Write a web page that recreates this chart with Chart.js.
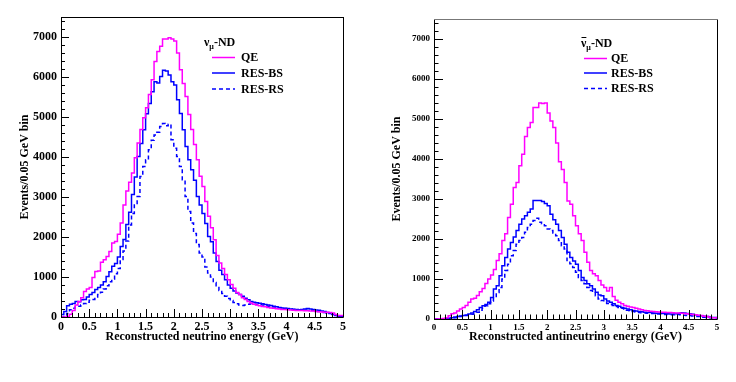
<!DOCTYPE html>
<html>
<head>
<meta charset="utf-8">
<script src="https://cdn.jsdelivr.net/npm/chart.js@4.4.1/dist/chart.umd.min.js"></script>
<style>
    html, body { margin: 0; padding: 0; background: #fff; }
    body { width: 736px; height: 382px; position: relative; overflow: hidden; }
    .panel { position: absolute; top: 0; width: 368px; height: 382px; }
</style>
</head>
<body>
<div class="panel" style="left:0"><canvas id="nu-chart"></canvas></div>
<div class="panel" style="left:368px"><canvas id="anu-chart"></canvas></div>
<script>
// histogram binning (GeV)
const binWidth = 0.05;
const xMax = 5;
const yMax = 7500;

// tick labels
const xTickValues = [0, 0.5, 1, 1.5, 2, 2.5, 3, 3.5, 4, 4.5, 5];
const xTickLabels = ["0", "0.5", "1", "1.5", "2", "2.5", "3", "3.5", "4", "4.5", "5"];
const yTickValues = [0, 1000, 2000, 3000, 4000, 5000, 6000, 7000];
const yTickLabels = ["0", "1000", "2000", "3000", "4000", "5000", "6000", "7000"];

const seriesLabels = ["QE", "RES-BS", "RES-RS"];

// nu_mu ND, events per 0.05 GeV bin (100 bins from 0 to 5 GeV)
const qeNu = [
    0, 0, 0, 10, 70, 160, 300, 390, 480, 640,
    700, 740, 990, 1140, 1150, 1370, 1430, 1510, 1640, 1850,
    1890, 2070, 2350, 2800, 3150, 3370, 3600, 3980, 4350, 4690,
    4980, 5230, 5560, 5930, 6390, 6640, 6770, 6950, 6950, 6980,
    6950, 6900, 6600, 6180, 5840, 5510, 5060, 4690, 4310, 3930,
    3520, 3260, 2890, 2520, 2230, 1930, 1540, 1350, 1210, 1060,
    930, 810, 720, 610, 560, 480, 440, 390, 350, 320,
    300, 280, 265, 255, 240, 225, 220, 205, 200, 190,
    185, 180, 172, 170, 165, 160, 162, 158, 155, 150,
    148, 140, 132, 128, 120, 118, 110, 100, 60, 35
];
const bsNu = [
    0, 60, 140, 280, 320, 340, 390, 380, 430, 440,
    500, 560, 610, 690, 740, 800, 880, 1010, 1130, 1270,
    1340, 1500, 1760, 1940, 2310, 2620, 3060, 3500, 4010, 4340,
    4680, 5080, 5340, 5630, 5880, 5850, 6010, 6170, 6150, 6050,
    5880, 5800, 5430, 5090, 4680, 4260, 3930, 3680, 3420, 3010,
    2800, 2590, 2340, 2010, 1880, 1600, 1390, 1170, 1060, 930,
    800, 720, 650, 600, 560, 520, 470, 430, 390, 370,
    355, 345, 330, 310, 300, 285, 270, 255, 240, 225,
    220, 210, 200, 195, 185, 180, 190, 200, 210, 200,
    185, 175, 170, 150, 140, 110, 95, 70, 45, 20
];
const rsNu = [
    0, 0, 30, 90, 180, 220, 250, 270, 300, 340,
    370, 420, 440, 500, 560, 620, 700, 780, 880, 950,
    1080, 1210, 1440, 1650, 1900, 2300, 2590, 2800, 3010, 3510,
    3760, 3930, 4180, 4420, 4550, 4620, 4760, 4840, 4780, 4820,
    4430, 4220, 4010, 3760, 3430, 3010, 2640, 2350, 2090, 1810,
    1600, 1500, 1250, 1100, 1000, 860, 760, 660, 590, 520,
    460, 410, 360, 330, 300, 290, 300, 320, 330, 320,
    310, 305, 300, 285, 270, 260, 250, 240, 230, 225,
    215, 205, 200, 190, 185, 180, 175, 170, 168, 165,
    160, 150, 140, 125, 115, 100, 85, 60, 40, 20
];

// anti-nu_mu ND
const qeAnu = [
    0, 0, 0, 5, 15, 30, 80, 130, 150, 200,
    250, 290, 340, 420, 500, 520, 590, 680, 760, 890,
    1000, 1100, 1240, 1460, 1630, 1960, 2130, 2540, 2870, 3290,
    3410, 3830, 4120, 4560, 4790, 4910, 5290, 5290, 5400, 5390,
    5400, 5150, 4950, 4790, 4400, 3930, 3740, 3410, 2950, 2870,
    2580, 2330, 2130, 1960, 1670, 1420, 1210, 1130, 1080, 960,
    850, 790, 700, 790, 560, 470, 420, 380, 340, 320,
    300, 290, 270, 250, 230, 210, 205, 195, 190, 180,
    175, 170, 168, 165, 160, 155, 150, 150, 145, 140,
    130, 120, 110, 105, 95, 85, 70, 60, 45, 30
];
const bsAnu = [
    0, 0, 0, 0, 5, 10, 20, 30, 50, 60,
    75, 85, 100, 125, 150, 190, 230, 290, 330, 360,
    420, 540, 750, 830, 1080, 1330, 1540, 1750, 1910, 2050,
    2210, 2370, 2500, 2580, 2670, 2750, 2960, 2960, 2960, 2940,
    2890, 2830, 2620, 2480, 2370, 2210, 2040, 1870, 1670, 1540,
    1450, 1370, 1210, 1040, 960, 880, 830, 750, 670, 600,
    580, 500, 450, 420, 380, 340, 320, 290, 270, 250,
    230, 210, 200, 190, 180, 170, 165, 160, 150, 145,
    142, 140, 135, 130, 125, 125, 130, 140, 155, 150,
    140, 130, 120, 105, 90, 80, 70, 60, 50, 40
];
const rsAnu = [
    0, 0, 0, 0, 0, 5, 10, 20, 30, 45,
    60, 70, 85, 100, 120, 150, 170, 220, 270, 330,
    380, 450, 540, 660, 790, 1000, 1210, 1370, 1580, 1710,
    1870, 1960, 2040, 2170, 2290, 2370, 2460, 2520, 2420, 2380,
    2330, 2250, 2210, 2150, 2080, 1960, 1830, 1750, 1460, 1380,
    1290, 1170, 1040, 960, 880, 790, 710, 670, 580, 500,
    460, 420, 390, 360, 340, 310, 290, 270, 250, 220,
    200, 190, 175, 165, 155, 150, 145, 140, 135, 130,
    125, 120, 115, 110, 108, 105, 110, 115, 100, 95,
    90, 85, 75, 65, 60, 55, 45, 35, 30, 25
];

const serif = '"Liberation Serif", "Times New Roman", serif';
const magenta = "#ff00ff";
const blue = "#0000ff";

function histDataset(label, values, color, dash) {
    let points = values.map(function (v, i) {
        return { x: Math.round(i * binWidth * 100) / 100, y: v };
    });
    points.push({ x: xMax, y: values[values.length - 1] });
    return {
        label: label,
        data: points,
        borderColor: color,
        borderWidth: 1.5,
        borderDash: dash,
        stepped: "after",
        pointRadius: 0,
        fill: false,
    };
}

// ROOT-like frame, inward ticks and legend box
const rootFrame = {
    id: "rootFrame",
    afterDraw: function (chart, args, opts) {
        const ctx = chart.ctx;
        const area = chart.chartArea;
        const xs = chart.scales.x;
        const ys = chart.scales.y;
        ctx.save();

        ctx.lineWidth = 1;
        ctx.strokeStyle = "#000";
        ctx.setLineDash([]);
        ctx.beginPath();
        ctx.moveTo(area.left + 0.5, area.top + 0.5);
        ctx.lineTo(area.left + 0.5, area.bottom + 0.5);
        ctx.lineTo(area.right + 0.5, area.bottom + 0.5);
        ctx.lineTo(area.right + 0.5, area.top + 0.5);
        ctx.stroke();
        ctx.strokeStyle = opts.topColor;
        ctx.beginPath();
        ctx.moveTo(area.left, area.top + 0.5);
        ctx.lineTo(area.right + 1, area.top + 0.5);
        ctx.stroke();

        ctx.strokeStyle = "#000";
        ctx.beginPath();
        for (let i = 0; i <= 50; i++) {
            let px = Math.round(xs.getPixelForValue(i * 0.1)) + 0.5;
            let len = i % 5 === 0 ? opts.majorLen : opts.minorLen;
            ctx.moveTo(px, area.bottom);
            ctx.lineTo(px, area.bottom - len);
        }
        for (let i = 0; i <= 37; i++) {
            let py = Math.round(ys.getPixelForValue(i * 200)) + 0.5;
            let len = i % 5 === 0 ? opts.majorLen : opts.minorLen;
            ctx.moveTo(area.left, py);
            ctx.lineTo(area.left + len, py);
        }
        ctx.stroke();

        // legend
        const lg = opts.legend;
        ctx.fillStyle = "#000";
        ctx.textBaseline = "alphabetic";
        ctx.textAlign = "left";
        ctx.font = "bold 12px " + serif;
        let tx = lg.x;
        ctx.fillText("\u03bd", tx, lg.titleY);
        let nuW = ctx.measureText("\u03bd").width;
        if (lg.anti) {
            ctx.beginPath();
            ctx.moveTo(tx + 0.5, lg.titleY - 9.5);
            ctx.lineTo(tx + nuW, lg.titleY - 9.5);
            ctx.stroke();
        }
        tx += nuW;
        ctx.font = "bold 8px " + serif;
        ctx.fillText("\u03bc", tx, lg.titleY + 3);
        tx += ctx.measureText("\u03bc").width;
        ctx.font = "bold 12px " + serif;
        ctx.fillText("-ND", tx, lg.titleY);

        ctx.textBaseline = "middle";
        chart.data.datasets.forEach(function (ds, i) {
            let y = lg.rowY[i];
            ctx.strokeStyle = ds.borderColor;
            ctx.lineWidth = 1.5;
            ctx.setLineDash(ds.borderDash || []);
            ctx.beginPath();
            ctx.moveTo(lg.lineX0, y);
            ctx.lineTo(lg.lineX1, y);
            ctx.stroke();
            ctx.fillText(ds.label, lg.textX, y + 0.5);
        });
        ctx.restore();
    },
};

function makeChart(canvasId, sets, cfg) {
    let canvas = document.getElementById(canvasId);
    return new Chart(canvas, {
        type: "line",
        data: {
            datasets: [
                histDataset(seriesLabels[0], sets[0], magenta, []),
                histDataset(seriesLabels[1], sets[1], blue, []),
                histDataset(seriesLabels[2], sets[2], blue, [4, 3]),
            ],
        },
        plugins: [rootFrame],
        options: {
            responsive: true,
            maintainAspectRatio: false,
            animation: false,
            devicePixelRatio: 1,
            layout: { padding: { left: 0, right: cfg.padRight, top: cfg.padTop, bottom: 0 } },
            plugins: {
                legend: { display: false },
                tooltip: { enabled: false },
                rootFrame: {
                    majorLen: cfg.majorLen,
                    minorLen: cfg.minorLen,
                    topColor: cfg.topColor,
                    legend: cfg.legend,
                },
            },
            scales: {
                x: {
                    type: "linear",
                    min: 0,
                    max: xMax,
                    afterBuildTicks: function (scale) {
                        scale.ticks = xTickValues.map(function (v) { return { value: v }; });
                    },
                    afterFit: function (scale) { scale.height = cfg.xHeight; },
                    ticks: {
                        autoSkip: false,
                        maxRotation: 0,
                        padding: 3,
                        color: "#000",
                        font: { family: serif, size: cfg.tickSize, weight: "bold" },
                        callback: function (value) {
                            return xTickLabels[xTickValues.indexOf(value)];
                        },
                    },
                    grid: { display: false, drawTicks: false },
                    border: { display: false },
                    title: {
                        display: true,
                        text: cfg.xTitle,
                        color: "#000",
                        font: { family: serif, size: 12, weight: "bold" },
                        padding: { top: 0, bottom: 38 },
                    },
                },
                y: {
                    min: 0,
                    max: yMax,
                    afterBuildTicks: function (scale) {
                        scale.ticks = yTickValues.map(function (v) { return { value: v }; });
                    },
                    afterFit: function (scale) { scale.width = cfg.yWidth; },
                    ticks: {
                        padding: 4,
                        color: "#000",
                        font: { family: serif, size: cfg.tickSize, weight: "bold" },
                        callback: function (value) {
                            return yTickLabels[yTickValues.indexOf(value)];
                        },
                    },
                    grid: { display: false, drawTicks: false },
                    border: { display: false },
                    title: {
                        display: true,
                        text: "Events/0.05 GeV bin",
                        color: "#000",
                        font: { family: serif, size: 12, weight: "bold" },
                        padding: { top: cfg.yTitlePad, bottom: 0 },
                    },
                },
            },
        },
    });
}

window.chartNu = makeChart("nu-chart", [qeNu, bsNu, rsNu], {
    padRight: 25, padTop: 17, xHeight: 65, yWidth: 61, yTitlePad: 18,
    tickSize: 12, majorLen: 8, minorLen: 4, topColor: "#000",
    xTitle: "Reconstructed neutrino energy (GeV)",
    legend: { x: 204, titleY: 46, anti: false, lineX0: 212, lineX1: 235, textX: 241, rowY: [57.5, 73, 89] },
});

window.chartAnu = makeChart("anu-chart", [qeAnu, bsAnu, rsAnu], {
    padRight: 19, padTop: 19, xHeight: 63, yWidth: 66, yTitlePad: 22,
    tickSize: 9, majorLen: 9, minorLen: 4.5, topColor: "#777",
    xTitle: "Reconstructed antineutrino energy (GeV)",
    legend: { x: 213, titleY: 47, anti: true, lineX0: 216, lineX1: 239, textX: 243, rowY: [58.5, 73, 88.5] },
});
</script>
</body>
</html>
